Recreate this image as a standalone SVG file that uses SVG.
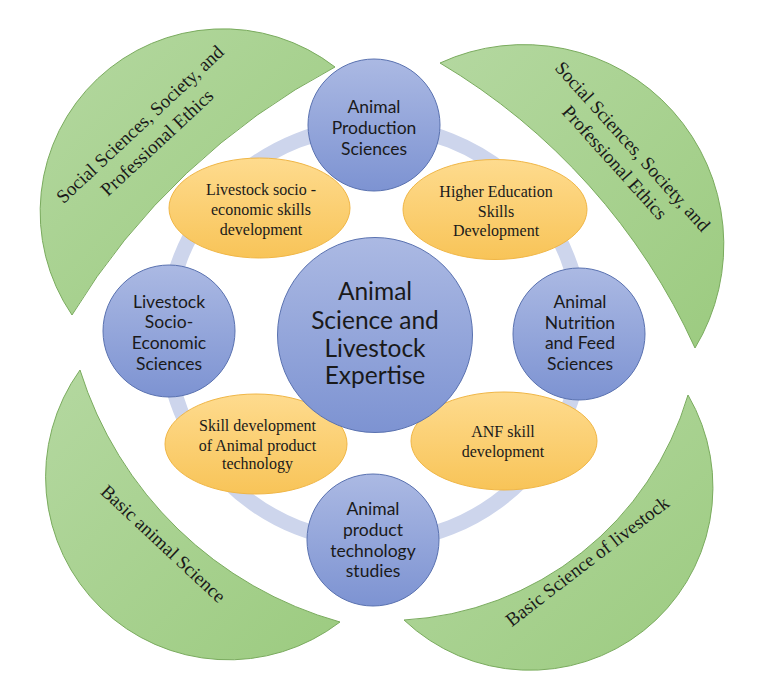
<svg xmlns="http://www.w3.org/2000/svg" width="768" height="683" viewBox="0 0 768 683">
<defs>
<linearGradient id="gBlue" x1="0" y1="0" x2="0" y2="1"><stop offset="0" stop-color="#abb9e3"/><stop offset="1" stop-color="#7d93d2"/></linearGradient>
<linearGradient id="gOrange" x1="0" y1="0" x2="0" y2="1"><stop offset="0" stop-color="#fedb8e"/><stop offset="1" stop-color="#f8c458"/></linearGradient>
<linearGradient id="gGreen" x1="0" y1="0" x2="1" y2="1"><stop offset="0" stop-color="#b4d8a0"/><stop offset="1" stop-color="#9ccb80"/></linearGradient>
<style>
.sat{fill:url(#gBlue);stroke:#5a72b0;stroke-width:1}
.hub{fill:url(#gBlue);stroke:#5a72b0;stroke-width:1}
.oval{fill:url(#gOrange);stroke:#f0b646;stroke-width:1}
.moon{fill:url(#gGreen);stroke:#7aab5e;stroke-width:1}
.ring{fill:none;stroke:#cdd5ec;stroke-width:15}
.sans{font-family:Lato,"Liberation Sans",sans-serif;fill:#1a1a1a;text-anchor:middle;font-size:17.5px}
.big{font-size:24.5px}
.serif{font-family:"Liberation Serif","Times New Roman",serif;fill:#1a1a1a;text-anchor:middle;font-size:16px}
.mtxt{font-family:"Liberation Serif","Times New Roman",serif;fill:#1a1a1a;text-anchor:middle;font-size:19px}
</style>
</defs>
<rect width="768" height="683" fill="#ffffff"/>

<g id="connectors">
<circle class="ring" cx="374" cy="334" r="208"/>
</g>

<g id="moon-top-left">
<path class="moon" d="M72,315 A183,183 0 0 1 335,67 A680,680 0 0 0 72,315 Z"/>
<g class="mtxt" transform="translate(149,134) rotate(-43)"><text y="-7">Social Sciences, Society, and</text><text y="18">Professional Ethics</text></g>
</g>
<g id="moon-top-right">
<path class="moon" d="M440,63 A200,200 0 0 1 695,348 A637,637 0 0 0 440,63 Z"/>
<g class="mtxt" transform="translate(623,155) rotate(48)"><text y="-6.5">Social Sciences, Society, and</text><text y="17.5">Professional Ethics</text></g>
</g>
<g id="moon-bottom-left">
<path class="moon" d="M80,370 A183,183 0 0 0 340,622 A379,379 0 0 1 80,370 Z"/>
<text class="mtxt" transform="translate(163,544) rotate(43)" y="6">Basic animal Science</text>
</g>
<g id="moon-bottom-right">
<path class="moon" d="M688,395 A183,183 0 0 1 404,620 A314,314 0 0 0 688,395 Z"/>
<text class="mtxt" transform="translate(587.5,561.5) rotate(-37.5)" y="6">Basic Science of livestock</text>
</g>

<g id="node-production">
<circle class="sat" cx="374" cy="125" r="66"/>
<text class="sans" x="374" y="113">Animal</text>
<text class="sans" x="374" y="134">Production</text>
<text class="sans" x="374" y="155">Sciences</text>
</g>
<g id="node-socioeconomic">
<circle class="sat" cx="169" cy="331" r="66"/>
<text class="sans" x="169" y="308">Livestock</text>
<text class="sans" x="169" y="328">Socio-</text>
<text class="sans" x="169" y="349">Economic</text>
<text class="sans" x="169" y="370">Sciences</text>
</g>
<g id="node-nutrition">
<circle class="sat" cx="579" cy="334" r="66"/>
<text class="sans" x="580" y="308">Animal</text>
<text class="sans" x="580" y="329">Nutrition</text>
<text class="sans" x="580" y="349">and Feed</text>
<text class="sans" x="580" y="370">Sciences</text>
</g>
<g id="node-product">
<circle class="sat" cx="373" cy="540" r="66"/>
<text class="sans" x="373" y="515">Animal</text>
<text class="sans" x="373" y="536">product</text>
<text class="sans" x="373" y="557">technology</text>
<text class="sans" x="373" y="577">studies</text>
</g>

<g id="skill-socioeconomic">
<ellipse class="oval" cx="259.5" cy="208" rx="90.5" ry="50"/>
<text class="serif" x="261" y="194.5">Livestock socio -</text>
<text class="serif" x="261" y="215">economic skills</text>
<text class="serif" x="261" y="234.5">development</text>
</g>
<g id="skill-higher-education">
<ellipse class="oval" cx="495" cy="209.5" rx="92" ry="50"/>
<text class="serif" x="496" y="197">Higher Education</text>
<text class="serif" x="496" y="217">Skills</text>
<text class="serif" x="496" y="236">Development</text>
</g>
<g id="skill-product">
<ellipse class="oval" cx="256" cy="444" rx="91" ry="50"/>
<text class="serif" x="257.5" y="430.5">Skill development</text>
<text class="serif" x="257.5" y="450.5">of Animal product</text>
<text class="serif" x="257.5" y="469">technology</text>
</g>
<g id="skill-anf">
<ellipse class="oval" cx="504" cy="441" rx="93" ry="49"/>
<text class="serif" x="503" y="437">ANF skill</text>
<text class="serif" x="503" y="457">development</text>
</g>

<g id="node-center">
<circle class="hub" cx="375" cy="335" r="97.5"/>
<text class="sans big" x="375" y="300">Animal</text>
<text class="sans big" x="375" y="328.5">Science and</text>
<text class="sans big" x="375" y="357">Livestock</text>
<text class="sans big" x="375" y="384">Expertise</text>
</g>
</svg>
